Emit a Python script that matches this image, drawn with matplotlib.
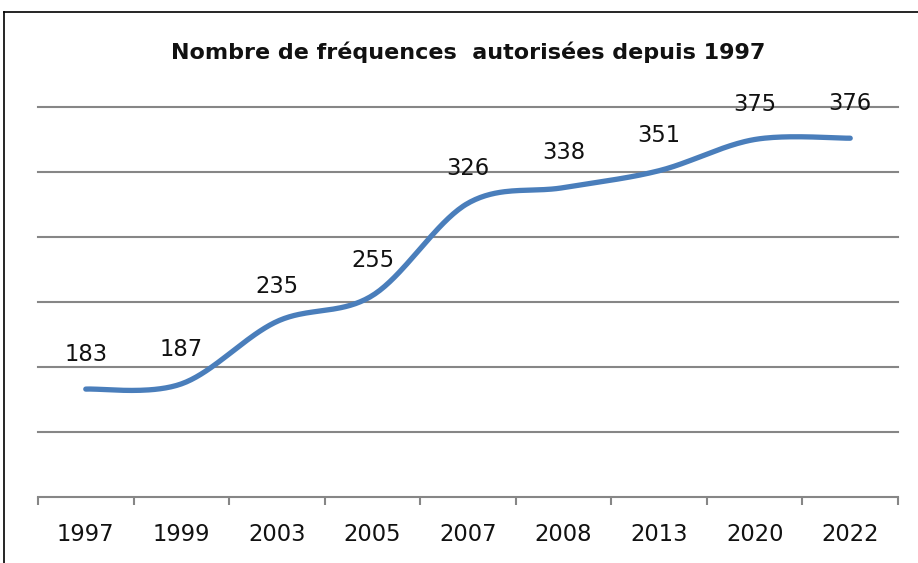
import numpy as np
import matplotlib.pyplot as plt
from matplotlib.lines import Line2D

years = ['1997', '1999', '2003', '2005', '2007', '2008', '2013', '2020', '2022']
freqs = [183, 187, 235, 255, 326, 338, 351, 375, 376]
title = 'Nombre de fréquences  autorisées depuis 1997'

blue = '#4A7EBB'
grey = '#868686'

def smooth(xs, ys, n=40):
    # Excel-like smoothed line: Catmull-Rom segments as cubic Bezier
    xs = np.asarray(xs, float)
    ys = np.asarray(ys, float)
    P = np.column_stack([xs, ys])
    P = np.vstack([P[0], P, P[-1]])
    out = []
    t = np.linspace(0, 1, n)[:, None]
    for i in range(1, len(P) - 2):
        p0, p3 = P[i], P[i + 1]
        p1 = p0 + (P[i + 1] - P[i - 1]) / 6
        p2 = p3 - (P[i + 2] - P[i]) / 6
        seg = (1-t)**3*p0 + 3*(1-t)**2*t*p1 + 3*(1-t)*t**2*p2 + t**3*p3
        out.append(seg if i == 1 else seg[1:])
    out = np.vstack(out)
    return out[:, 0], out[:, 1]

fig = plt.figure(figsize=(9.18, 5.63), dpi=100)
W, H = 918, 563
ax = fig.add_axes([38/W, (H-497)/H, 860/W, (497-107)/H])

x = np.arange(len(years)) + 0.5
sx, sy = smooth(x, freqs)
ax.plot(sx, sy, color=blue, lw=3.8, solid_capstyle='round', zorder=3)

for xi, v in zip(x, freqs):
    ax.annotate(str(v), (xi, v), xytext=(0, 25), textcoords='offset points',
                ha='center', va='center', fontsize=16.3, color='#111111')

ax.set_xlim(0, len(years))
ax.set_ylim(100, 400)
for g in range(150, 401, 50):
    ax.axhline(g, color=grey, lw=1.5, zorder=1, clip_on=False)

for s in ['top', 'right', 'left']:
    ax.spines[s].set_visible(False)
ax.spines['bottom'].set_color(grey)
ax.spines['bottom'].set_linewidth(1.5)
ax.set_yticks([])
ax.set_xticks(np.arange(len(years) + 1))
ax.set_xticklabels([])
ax.tick_params(axis='x', which='major', length=6, width=1.5, color=grey, direction='out')
ax.set_xticks(x, minor=True)
ax.set_xticklabels(years, minor=True, fontsize=16.3, color='#111111')
ax.tick_params(axis='x', which='minor', length=0, pad=19)

fig.text(468/W, 1 - 52/H, title, ha='center', va='center', fontsize=16,
         fontweight='bold', color='#111111')

# chart frame (left and top edges visible)
fig.add_artist(Line2D([4/W, 4/W], [0, 1 - 12/H], color='black', lw=1.2))
fig.add_artist(Line2D([4/W, 1], [1 - 12/H, 1 - 12/H], color='black', lw=1.2))

fig.savefig('out.png', dpi=100)
